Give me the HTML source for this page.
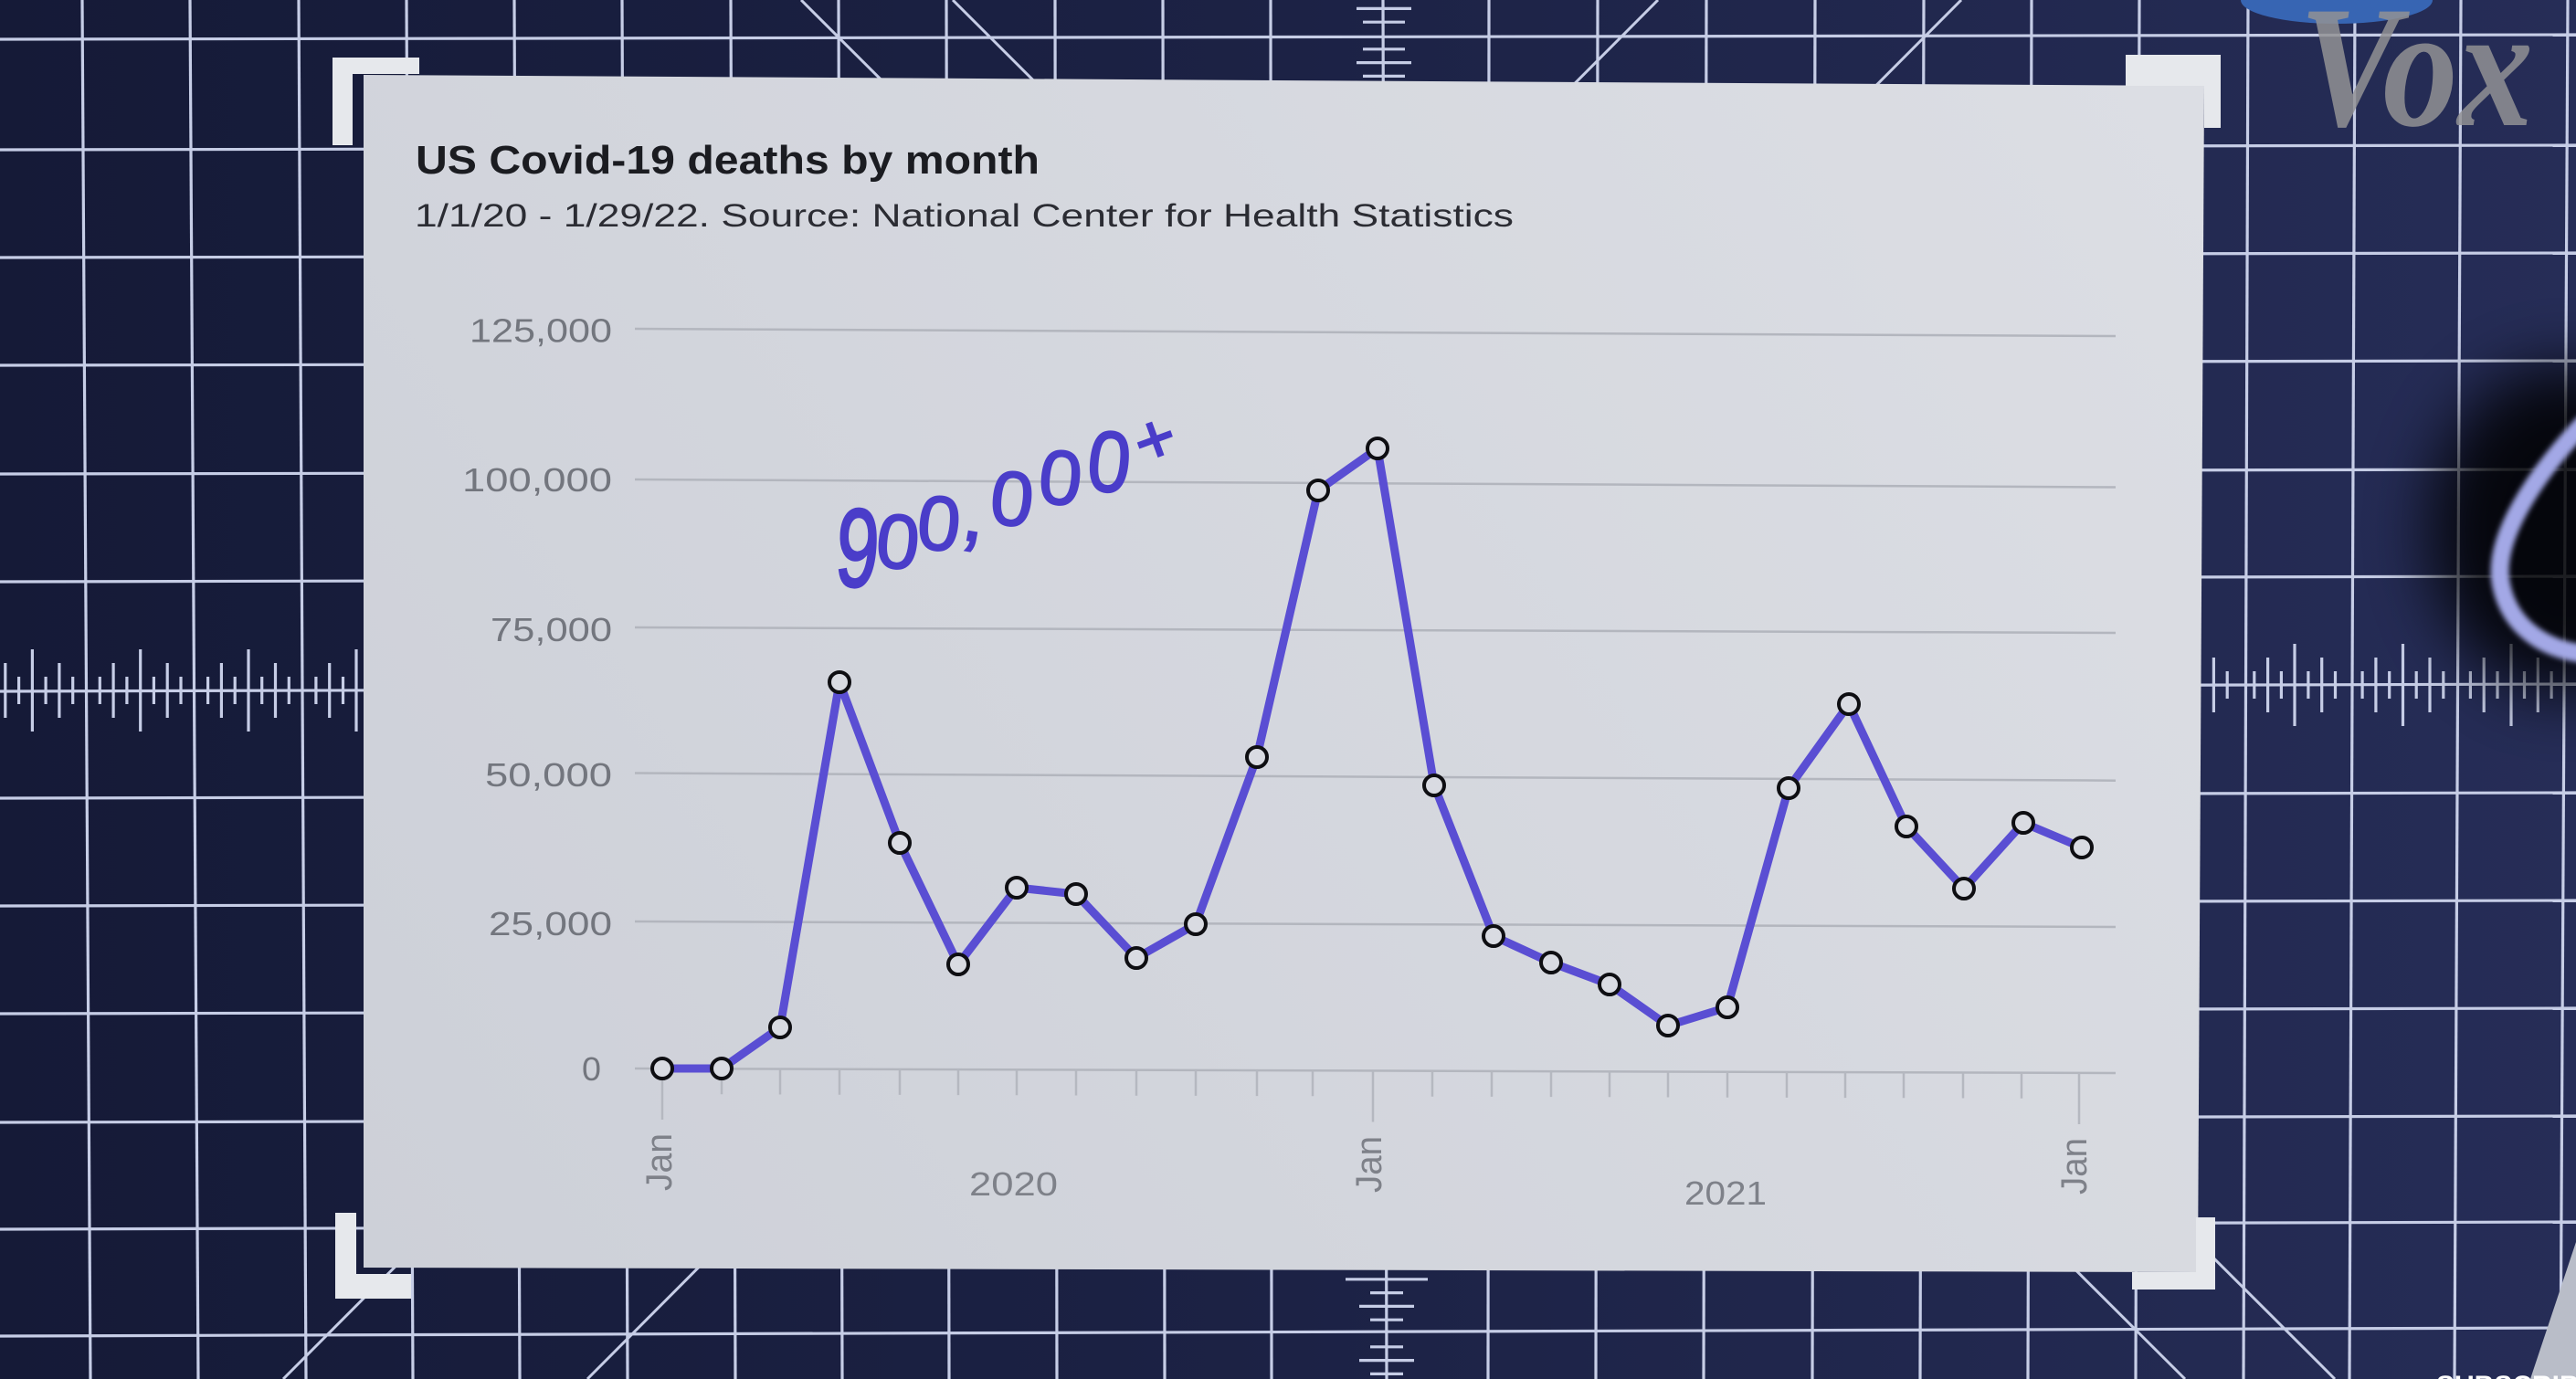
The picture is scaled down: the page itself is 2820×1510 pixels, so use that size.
<!DOCTYPE html>
<html>
<head>
<meta charset="utf-8">
<style>
html,body{margin:0;padding:0;background:#1b2142;}
svg{display:block;}
</style>
</head>
<body>
<svg width="2820" height="1510" viewBox="0 0 2820 1510" xmlns="http://www.w3.org/2000/svg">
<defs>
  <linearGradient id="bg" x1="0" y1="0" x2="1" y2="0">
    <stop offset="0" stop-color="#151a37"/>
    <stop offset="0.5" stop-color="#1c2245"/>
    <stop offset="1" stop-color="#262d57"/>
  </linearGradient>
  <linearGradient id="paper" gradientUnits="userSpaceOnUse" x1="398" y1="1388" x2="2413" y2="94">
    <stop offset="0" stop-color="#cdd0d8"/>
    <stop offset="1" stop-color="#dcdee4"/>
  </linearGradient>
  <filter id="blur35" x="-50%" y="-50%" width="200%" height="200%"><feGaussianBlur stdDeviation="35"/></filter>
  <filter id="blur3" x="-20%" y="-20%" width="140%" height="140%"><feGaussianBlur stdDeviation="3"/></filter>
</defs>

<rect x="0" y="0" width="2820" height="1510" fill="url(#bg)"/>

<g stroke="#c6cde6" stroke-width="3.2" fill="none">
  <line x1="90" y1="0" x2="99" y2="1510"/>
  <line x1="208" y1="0" x2="217" y2="1510"/>
  <line x1="327" y1="0" x2="335" y2="1510"/>
  <line x1="445" y1="0" x2="452" y2="1510"/>
  <line x1="563" y1="0" x2="569" y2="1510"/>
  <line x1="681" y1="0" x2="687" y2="1510"/>
  <line x1="800" y1="0" x2="805" y2="1510"/>
  <line x1="918" y1="0" x2="922" y2="1510"/>
  <line x1="1036" y1="0" x2="1039" y2="1510"/>
  <line x1="1155" y1="0" x2="1157" y2="1510"/>
  <line x1="1273" y1="0" x2="1275" y2="1510"/>
  <line x1="1391" y1="0" x2="1392" y2="1510"/>
  <line x1="1514" y1="0" x2="1518" y2="1510"/>
  <line x1="1630" y1="0" x2="1629" y2="1510"/>
  <line x1="1749" y1="0" x2="1747" y2="1510"/>
  <line x1="1868" y1="0" x2="1865" y2="1510"/>
  <line x1="1987" y1="0" x2="1984" y2="1510"/>
  <line x1="2106" y1="0" x2="2102" y2="1510"/>
  <line x1="2224" y1="0" x2="2220" y2="1510"/>
  <line x1="2342" y1="0" x2="2338" y2="1510"/>
  <line x1="2461" y1="0" x2="2456" y2="1510"/>
  <line x1="2578" y1="0" x2="2572" y2="1510"/>
  <line x1="2694" y1="0" x2="2687" y2="1510"/>
  <line x1="2811" y1="0" x2="2803" y2="1510"/>

  <line x1="0" y1="43" x2="2820" y2="38"/>
  <line x1="0" y1="164" x2="2820" y2="159"/>
  <line x1="0" y1="282" x2="2820" y2="277"/>
  <line x1="0" y1="400" x2="2820" y2="395"/>
  <line x1="0" y1="519" x2="2820" y2="514"/>
  <line x1="0" y1="637" x2="2820" y2="631"/>
  <line x1="0" y1="757" x2="2820" y2="749"/>
  <line x1="0" y1="874" x2="2820" y2="868"/>
  <line x1="0" y1="992" x2="2820" y2="986"/>
  <line x1="0" y1="1110" x2="2820" y2="1104"/>
  <line x1="0" y1="1229" x2="2820" y2="1222"/>
  <line x1="0" y1="1346" x2="2820" y2="1338"/>
  <line x1="0" y1="1463" x2="2820" y2="1454"/>
</g>

<g stroke="#c6cde6" stroke-width="3">
  <line x1="877" y1="0" x2="2392" y2="1510"/>
  <line x1="1043" y1="0" x2="2556" y2="1510"/>
  <line x1="1815" y1="0" x2="310" y2="1510"/>
  <line x1="2147" y1="0" x2="643" y2="1510"/>
</g>

<g stroke="#c6cde6" stroke-width="3.2" fill="none">
  <path d="M35.4 711V801M153.7 711V801M272 711V801M390 711V801"/>
  <path d="M5.8 726V786M64.9 726V786M124.1 726V786M183.2 726V786M242.4 726V786M301.5 726V786M360.7 726V786"/>
  <path d="M20.6 741V771M50.1 741V771M79.7 741V771M109.3 741V771M138.9 741V771M168.4 741V771M198 741V771M227.6 741V771M257.2 741V771M286.7 741V771M316.3 741V771M345.9 741V771M375.5 741V771"/>
  <path d="M2512 705V795M2630.5 705V795M2749 705V795"/>
  <path d="M2423.4 720V780M2482.6 720V780M2541.7 720V780M2600.9 720V780M2660 720V780M2719.2 720V780M2778.3 720V780"/>
  <path d="M2438.2 735V765M2467.8 735V765M2497.4 735V765M2526.9 735V765M2556.5 735V765M2586.1 735V765M2615.7 735V765M2645.2 735V765M2674.8 735V765M2704.4 735V765M2734 735V765M2763.5 735V765M2793.1 735V765"/>
  <path d="M1485 9.4H1545M1485 68.6H1545M1492 24.2H1538M1492 53.8H1538M1492 83.4H1538"/>
  <path d="M1473 1400.8H1563M1488 1430.4H1548M1488 1489.6H1548M1500 1445.2H1536M1500 1415.6H1536M1500 1474.8H1536M1500 1504.4H1536"/>
</g>

<ellipse cx="2558" cy="0" rx="105" ry="26" fill="#3765b3"/>

<text x="2517" y="137" font-family="'Liberation Serif', serif" font-weight="bold" font-style="italic" font-size="190" fill="#929294" fill-opacity="0.85" textLength="256" lengthAdjust="spacingAndGlyphs">Vox</text>

<ellipse cx="2810" cy="580" rx="150" ry="180" fill="#000" opacity="0.85" filter="url(#blur35)"/>
<path d="M2830 462 C2775 520 2728 590 2738 640 C2748 690 2790 712 2830 716" stroke="#a3a8e6" stroke-width="20" fill="none" filter="url(#blur3)"/>

<polygon points="2820,1360 2820,1510 2770,1510" fill="#b9bdc8"/>
<text x="2667" y="1527" font-family="'Liberation Sans', sans-serif" font-weight="bold" font-size="30" fill="#ffffff">SUBSCRIBE</text>

<polygon points="398,82 2413,94 2406,1393 398,1388" fill="url(#paper)"/>

<g fill="#e6e8ec">
  <rect x="364" y="63" width="95" height="18"/>
  <rect x="364" y="63" width="22" height="96"/>
  <rect x="2327" y="60" width="104" height="34"/>
  <rect x="2413" y="60" width="18" height="80"/>
  <rect x="367" y="1328" width="23" height="94"/>
  <rect x="367" y="1395" width="83" height="27"/>
  <rect x="2404" y="1333" width="21" height="79"/>
  <rect x="2334" y="1393" width="91" height="19"/>
</g>

<text x="455" y="190" font-family="'Liberation Sans', sans-serif" font-weight="bold" font-size="44" fill="#1b1c21" textLength="683" lengthAdjust="spacingAndGlyphs">US Covid-19 deaths by month</text>
<text x="454" y="248" font-family="'Liberation Sans', sans-serif" font-size="35" fill="#2b2c33" textLength="1203" lengthAdjust="spacingAndGlyphs">1/1/20 - 1/29/22. Source: National Center for Health Statistics</text>

<g stroke="#b3b6be" stroke-width="2.5">
  <line x1="695" y1="360" x2="2316" y2="368"/>
  <line x1="695" y1="525" x2="2316" y2="533.5"/>
  <line x1="695" y1="687" x2="2316" y2="693"/>
  <line x1="695" y1="846.5" x2="2316" y2="854.7"/>
  <line x1="695" y1="1009" x2="2316" y2="1015"/>
  <line x1="695" y1="1170" x2="2316" y2="1175"/>
</g>

<g font-family="'Liberation Sans', sans-serif" font-size="36" fill="#73767e">
  <text x="514" y="374.6" textLength="156" lengthAdjust="spacingAndGlyphs">125,000</text>
  <text x="506" y="538" textLength="164" lengthAdjust="spacingAndGlyphs">100,000</text>
  <text x="537" y="702" textLength="133" lengthAdjust="spacingAndGlyphs">75,000</text>
  <text x="531" y="861" textLength="139" lengthAdjust="spacingAndGlyphs">50,000</text>
  <text x="535" y="1024" textLength="135" lengthAdjust="spacingAndGlyphs">25,000</text>
  <text x="637" y="1183" textLength="21" lengthAdjust="spacingAndGlyphs">0</text>
</g>

<g stroke="#b5b8c0" stroke-width="2.5">
  <path d="M725 1170.1V1226M1503 1172.5V1228.5M2276 1174.9V1231"/>
  <path d="M790 1170.3V1198.3M854 1170.5V1198.5M919 1170.7V1198.7M985 1170.9V1198.9M1049 1171.1V1199.1M1113 1171.3V1199.3M1178 1171.5V1199.5M1244 1171.7V1199.7M1309 1171.9V1199.9M1376 1172.1V1200.1M1437 1172.3V1200.3M1568 1172.7V1200.7M1633 1172.9V1200.9M1698 1173.1V1201.1M1762 1173.3V1201.3M1826 1173.5V1201.5M1891 1173.7V1201.7M1956 1173.9V1201.9M2020 1174.1V1202.1M2084 1174.3V1202.3M2149 1174.5V1202.5M2213 1174.7V1202.7"/>
</g>

<g font-family="'Liberation Sans', sans-serif" fill="#7e8189">
  <text transform="translate(735,1304) rotate(-90)" font-size="40" textLength="63" lengthAdjust="spacingAndGlyphs">Jan</text>
  <text transform="translate(1512,1306) rotate(-90)" font-size="40" textLength="62" lengthAdjust="spacingAndGlyphs">Jan</text>
  <text transform="translate(2284,1308) rotate(-90)" font-size="40" textLength="62" lengthAdjust="spacingAndGlyphs">Jan</text>
  <text x="1061" y="1309" font-size="36" textLength="97" lengthAdjust="spacingAndGlyphs">2020</text>
  <text x="1844" y="1319" font-size="36" textLength="90" lengthAdjust="spacingAndGlyphs">2021</text>
</g>

<polyline fill="none" stroke="#5a4ed3" stroke-width="9" stroke-linejoin="round" stroke-linecap="round"
  points="725,1170 790,1170 854,1125 919,747 985,923 1049,1056 1113,972 1178,979 1244,1049 1309,1012 1376,829 1443,537 1508,491 1570,860 1635,1025 1698,1054 1762,1078 1826,1123 1891,1103 1958,863 2024,771 2087,905 2150,973 2215,901 2279,928"/>

<g fill="#d9dbe2" stroke="#0e0e12" stroke-width="4">
  <circle cx="725" cy="1170" r="11"/>
  <circle cx="790" cy="1170" r="11"/>
  <circle cx="854" cy="1125" r="11"/>
  <circle cx="919" cy="747" r="11"/>
  <circle cx="985" cy="923" r="11"/>
  <circle cx="1049" cy="1056" r="11"/>
  <circle cx="1113" cy="972" r="11"/>
  <circle cx="1178" cy="979" r="11"/>
  <circle cx="1244" cy="1049" r="11"/>
  <circle cx="1309" cy="1012" r="11"/>
  <circle cx="1376" cy="829" r="11"/>
  <circle cx="1443" cy="537" r="11"/>
  <circle cx="1508" cy="491" r="11"/>
  <circle cx="1570" cy="860" r="11"/>
  <circle cx="1635" cy="1025" r="11"/>
  <circle cx="1698" cy="1054" r="11"/>
  <circle cx="1762" cy="1078" r="11"/>
  <circle cx="1826" cy="1123" r="11"/>
  <circle cx="1891" cy="1103" r="11"/>
  <circle cx="1958" cy="863" r="11"/>
  <circle cx="2024" cy="771" r="11"/>
  <circle cx="2087" cy="905" r="11"/>
  <circle cx="2150" cy="973" r="11"/>
  <circle cx="2215" cy="901" r="11"/>
  <circle cx="2279" cy="928" r="11"/>
</g>

<g font-family="'Liberation Sans', sans-serif" font-size="84" fill="#4a3dc9" stroke="#4a3dc9" stroke-width="2" text-anchor="middle">
  <text transform="translate(936,642) rotate(4) scale(1,1.45)">9</text>
  <text transform="translate(980,622) rotate(6)">0</text>
  <text transform="translate(1025,602) rotate(6)">0</text>
  <text transform="translate(1063,592) rotate(10)" font-size="90">,</text>
  <text transform="translate(1105,575) rotate(6)">0</text>
  <text transform="translate(1158,552) rotate(6)">0</text>
  <text transform="translate(1211,538) rotate(6) scale(1,1.12)">0</text>
  <text transform="translate(1273,505) rotate(-20)" font-size="76">+</text>
</g>
</svg>
</body>
</html>
